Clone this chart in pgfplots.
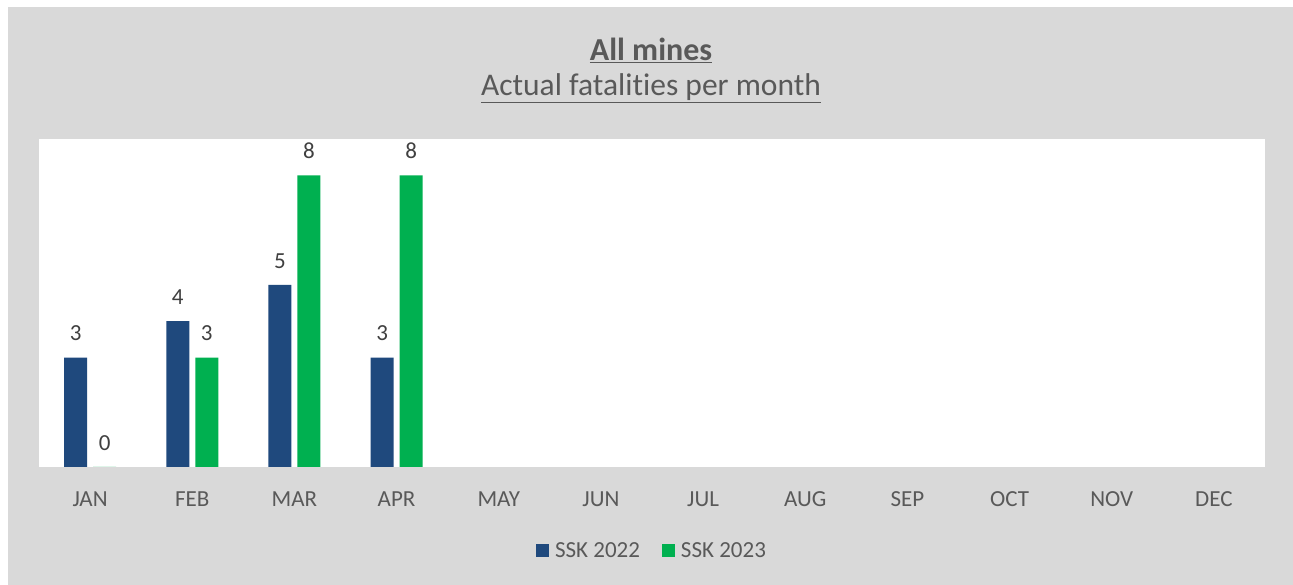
\documentclass[border=0pt]{standalone}
\usepackage{pgfplots}
\pgfplotsset{compat=1.18}
\usepackage{fontspec}
\setmainfont{Carlito}[Ligatures=NoCommon]
\definecolor{bg}{HTML}{D9D9D9}
\definecolor{sskblue}{HTML}{1F497D}
\definecolor{sskgreen}{HTML}{00B050}
\definecolor{txt}{HTML}{595959}
\definecolor{lbl}{HTML}{404040}
\begin{document}
\begin{tikzpicture}[x=1pt,y=1pt]
\fill[white] (0,0) rectangle (1293,585);
\fill[bg] (8,0) rectangle (1293,578);
\node[text=txt, font=\fontsize{32}{36}\selectfont\bfseries] at (651,535) {\underline{All mines}};
\node[text=txt, font=\fontsize{31.5}{36}\selectfont] at (651,497) {\underline{Actual fatalities per month}};
\begin{axis}[
  at={(39pt,118pt)}, anchor=south west,
  scale only axis, width=1226pt, height=328pt,
  ybar, bar width=23pt,
  ymin=0, ymax=9, xmin=-0.5, xmax=11.5,
  xtick={0,...,11},
  xticklabels={JAN,FEB,MAR,APR,MAY,JUN,JUL,AUG,SEP,OCT,NOV,DEC},
  ytick=\empty,
  axis line style={draw=none},
  tick style={draw=none},
  major tick length=0pt,
  axis background/.style={fill=white},
  /pgf/number format/assume math mode=true,
  xticklabel style={font=\fontsize{23}{26}\selectfont, text=txt, yshift=-21pt},
  nodes near coords,
  nodes near coords style={font=\fontsize{23}{26}\selectfont, text=lbl, yshift=13pt},
  legend style={at={(0.5,-0.256)}, anchor=center, draw=none, fill=none,
    font=\fontsize{23}{26}\selectfont, text=txt,
    /tikz/every even column/.append style={column sep=20pt}},
  legend columns=2,
  legend image code/.code={\fill[#1] (0pt,-6.5pt) rectangle (13pt,6.5pt); \path (17pt,0pt);},
]
\addplot[fill=sskblue, draw=none, bar shift=-14.5pt] coordinates {(0,3) (1,4) (2,5) (3,3)};
\addplot[fill=sskgreen, draw=none, bar shift=14.5pt] coordinates {(0,0) (1,3) (2,8) (3,8)};
\legend{SSK 2022, SSK 2023}
\end{axis}
\end{tikzpicture}
\end{document}
